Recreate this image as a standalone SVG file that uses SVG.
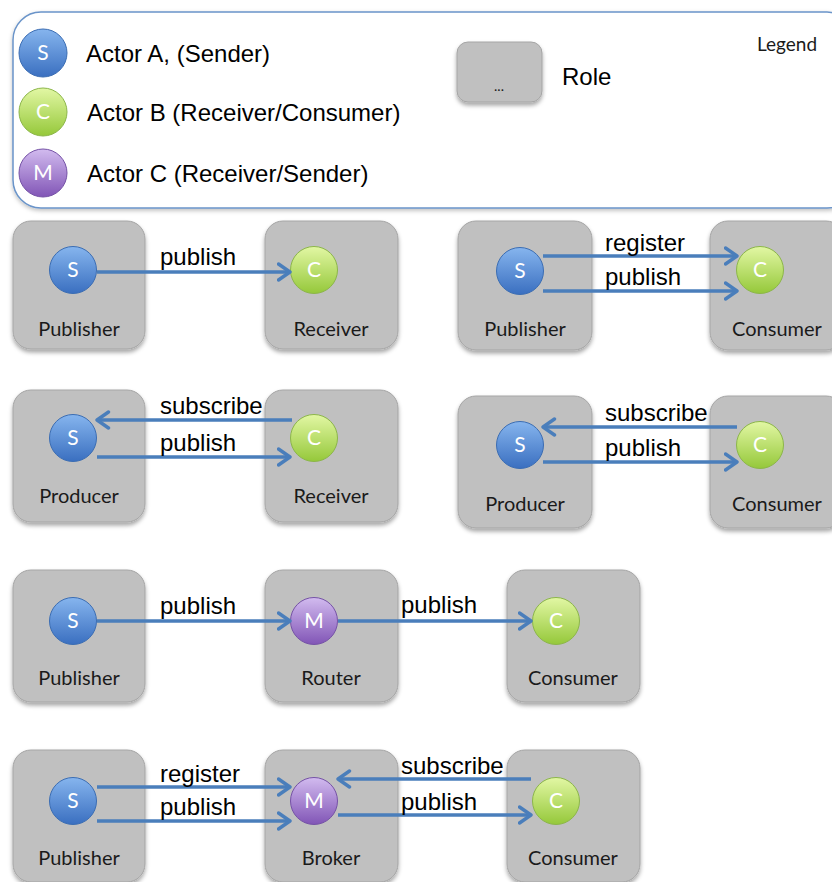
<svg xmlns="http://www.w3.org/2000/svg" width="832" height="882" viewBox="0 0 832 882">
  <style>
    .role { fill: #c0c0c0; stroke: #a5a5a5; stroke-width: 1; filter: url(#shadow); }
    .role-label { font-family: Lato, "Open Sans", sans-serif; font-size: 20px; fill: #1a1a1a; text-anchor: middle; }
    .actor-letter { font-family: Lato, "Open Sans", sans-serif; font-size: 21px; fill: #ffffff; text-anchor: middle; }
    .msg { font-family: "Liberation Sans", Arial, sans-serif; font-size: 24px; fill: #000000; }
    .legend-text { font-family: "Liberation Sans", Arial, sans-serif; font-size: 24px; fill: #000000; }
    .flow { stroke: #4a7ebb; stroke-width: 3.4; fill: none; marker-end: url(#head); }
    .sender { fill: url(#gBlue); stroke: #3b6db3; stroke-width: 1; }
    .consumer { fill: url(#gGreen); stroke: #8cb64a; stroke-width: 1; }
    .mediator { fill: url(#gPurple); stroke: #7552a6; stroke-width: 1; }
  </style>
  <defs>
    <filter id="shadow" x="-20%" y="-20%" width="140%" height="150%">
      <feDropShadow dx="0" dy="3" stdDeviation="2.2" flood-color="#000" flood-opacity="0.35"/>
    </filter>
    <filter id="softShadow" x="-10%" y="-10%" width="120%" height="130%">
      <feDropShadow dx="0" dy="2" stdDeviation="2" flood-color="#000" flood-opacity="0.25"/>
    </filter>
    <linearGradient id="gBlue" x1="0" y1="0" x2="0" y2="1">
      <stop offset="0" stop-color="#86b5ee"/>
      <stop offset="1" stop-color="#3a6fc0"/>
    </linearGradient>
    <linearGradient id="gGreen" x1="0" y1="0" x2="0" y2="1">
      <stop offset="0" stop-color="#e2f7a4"/>
      <stop offset="1" stop-color="#95c83a"/>
    </linearGradient>
    <linearGradient id="gPurple" x1="0" y1="0" x2="0" y2="1">
      <stop offset="0" stop-color="#d2bbef"/>
      <stop offset="1" stop-color="#8155b6"/>
    </linearGradient>
    <!-- open chevron arrowhead -->
    <marker id="head" viewBox="0 0 16 20" refX="13.5" refY="10" markerWidth="16" markerHeight="20" markerUnits="userSpaceOnUse" orient="auto">
      <path d="M2,2 L13.5,10 L2,18" fill="none" stroke="#4a7ebb" stroke-width="3.4" stroke-linecap="round" stroke-linejoin="round"/>
    </marker>
  </defs>

  <rect width="832" height="882" fill="#ffffff"/>

  <!-- Legend panel -->
  <g id="legend">
    <rect x="13" y="12" width="842" height="196" rx="28" ry="28" fill="#ffffff" stroke="#6a94c9" stroke-width="1.5" filter="url(#softShadow)"/>
    <text x="757" y="51" font-family="Lato, 'Open Sans', sans-serif" font-size="19" fill="#1a1a1a">Legend</text>
    <g id="legend-sender">
      <circle class="sender" cx="43" cy="53" r="24"/>
      <text class="actor-letter" x="43" y="60">S</text>
      <text class="legend-text" x="86" y="62" font-size="26.5">Actor A, (Sender)</text>
    </g>
    <g id="legend-consumer">
      <circle class="consumer" cx="43" cy="112" r="24"/>
      <text class="actor-letter" x="43" y="119">C</text>
      <text class="legend-text" x="87" y="121">Actor B (Receiver/Consumer)</text>
    </g>
    <g id="legend-mediator">
      <circle class="mediator" cx="43" cy="173" r="24"/>
      <text class="actor-letter" x="43" y="180">M</text>
      <text class="legend-text" x="87" y="182">Actor C (Receiver/Sender)</text>
    </g>
    <g id="legend-role">
      <rect class="role" x="457" y="42" width="85" height="60" rx="11"/>
      <text x="499" y="91" font-family="Lato, sans-serif" font-size="14" fill="#1a1a1a" text-anchor="middle">...</text>
      <text class="legend-text" x="562" y="85">Role</text>
    </g>
  </g>

  <!-- Row 1, left: Publisher -> Receiver -->
  <g id="r1-publisher">
    <rect class="role" x="13" y="221" width="132" height="128" rx="18"/>
    <circle class="sender" cx="73" cy="270" r="23.5"/>
    <text class="actor-letter" x="73" y="277">S</text>
    <text class="role-label" x="79" y="336">Publisher</text>
  </g>
  <g id="r1-receiver">
    <rect class="role" x="265" y="221" width="133" height="128" rx="18"/>
    <circle class="consumer" cx="314" cy="270" r="23.5"/>
    <text class="actor-letter" x="314" y="277">C</text>
    <text class="role-label" x="331" y="336">Receiver</text>
  </g>

  <!-- Row 1, right: Publisher -> Consumer -->
  <g id="r1b-publisher">
    <rect class="role" x="458" y="221" width="134" height="129" rx="18"/>
    <circle class="sender" cx="520" cy="271" r="23.5"/>
    <text class="actor-letter" x="520" y="278">S</text>
    <text class="role-label" x="525" y="336">Publisher</text>
  </g>
  <g id="r1b-consumer">
    <rect class="role" x="710" y="221" width="134" height="129" rx="18"/>
    <circle class="consumer" cx="760" cy="270" r="23.5"/>
    <text class="actor-letter" x="760" y="277">C</text>
    <text class="role-label" x="777" y="336">Consumer</text>
  </g>

  <!-- Row 2, left: Producer <-> Receiver -->
  <g id="r2-producer">
    <rect class="role" x="13" y="390" width="132" height="132" rx="18"/>
    <circle class="sender" cx="73" cy="438" r="23.5"/>
    <text class="actor-letter" x="73" y="445">S</text>
    <text class="role-label" x="79" y="503">Producer</text>
  </g>
  <g id="r2-receiver">
    <rect class="role" x="265" y="390" width="133" height="132" rx="18"/>
    <circle class="consumer" cx="314" cy="438" r="23.5"/>
    <text class="actor-letter" x="314" y="445">C</text>
    <text class="role-label" x="331" y="503">Receiver</text>
  </g>

  <!-- Row 2, right: Producer <-> Consumer -->
  <g id="r2b-producer">
    <rect class="role" x="458" y="396" width="134" height="132" rx="18"/>
    <circle class="sender" cx="520" cy="445" r="23.5"/>
    <text class="actor-letter" x="520" y="452">S</text>
    <text class="role-label" x="525" y="511">Producer</text>
  </g>
  <g id="r2b-consumer">
    <rect class="role" x="710" y="396" width="134" height="132" rx="18"/>
    <circle class="consumer" cx="760" cy="445" r="23.5"/>
    <text class="actor-letter" x="760" y="452">C</text>
    <text class="role-label" x="777" y="511">Consumer</text>
  </g>

  <!-- Row 3: Publisher -> Router -> Consumer -->
  <g id="r3-publisher">
    <rect class="role" x="13" y="570" width="132" height="132" rx="18"/>
    <circle class="sender" cx="73" cy="621" r="23.5"/>
    <text class="actor-letter" x="73" y="628">S</text>
    <text class="role-label" x="79" y="685">Publisher</text>
  </g>
  <g id="r3-router">
    <rect class="role" x="265" y="570" width="133" height="132" rx="18"/>
    <circle class="mediator" cx="314" cy="621" r="23.5"/>
    <text class="actor-letter" x="314" y="628">M</text>
    <text class="role-label" x="331" y="685">Router</text>
  </g>
  <g id="r3-consumer">
    <rect class="role" x="507" y="570" width="133" height="132" rx="18"/>
    <circle class="consumer" cx="556" cy="621" r="23.5"/>
    <text class="actor-letter" x="556" y="628">C</text>
    <text class="role-label" x="573" y="685">Consumer</text>
  </g>

  <!-- Row 4: Publisher -> Broker <-> Consumer -->
  <g id="r4-publisher">
    <rect class="role" x="13" y="750" width="132" height="132" rx="18"/>
    <circle class="sender" cx="73" cy="801" r="23.5"/>
    <text class="actor-letter" x="73" y="808">S</text>
    <text class="role-label" x="79" y="865">Publisher</text>
  </g>
  <g id="r4-broker">
    <rect class="role" x="265" y="750" width="133" height="132" rx="18"/>
    <circle class="mediator" cx="314" cy="801" r="23.5"/>
    <text class="actor-letter" x="314" y="808">M</text>
    <text class="role-label" x="331" y="865">Broker</text>
  </g>
  <g id="r4-consumer">
    <rect class="role" x="507" y="750" width="133" height="132" rx="18"/>
    <circle class="consumer" cx="556" cy="801" r="23.5"/>
    <text class="actor-letter" x="556" y="808">C</text>
    <text class="role-label" x="573" y="865">Consumer</text>
  </g>

  <!-- Message flows -->
  <g id="connectors">
    <line class="flow" x1="97" y1="272" x2="290" y2="272"/>
    <text class="msg" x="160" y="265">publish</text>

    <line class="flow" x1="543" y1="256" x2="737" y2="256"/>
    <text class="msg" x="605" y="251">register</text>
    <line class="flow" x1="543" y1="291" x2="737" y2="291"/>
    <text class="msg" x="605" y="285">publish</text>

    <line class="flow" x1="292" y1="420" x2="97" y2="420"/>
    <text class="msg" x="160" y="414">subscribe</text>
    <line class="flow" x1="97" y1="457" x2="290" y2="457"/>
    <text class="msg" x="160" y="451">publish</text>

    <line class="flow" x1="737" y1="427" x2="543" y2="427"/>
    <text class="msg" x="605" y="421">subscribe</text>
    <line class="flow" x1="543" y1="462" x2="737" y2="462"/>
    <text class="msg" x="605" y="456">publish</text>

    <line class="flow" x1="97" y1="621" x2="290" y2="621"/>
    <text class="msg" x="160" y="614">publish</text>
    <line class="flow" x1="338" y1="621" x2="531" y2="621"/>
    <text class="msg" x="401" y="613">publish</text>

    <line class="flow" x1="97" y1="787" x2="290" y2="787"/>
    <text class="msg" x="160" y="782">register</text>
    <line class="flow" x1="97" y1="821" x2="290" y2="821"/>
    <text class="msg" x="160" y="815">publish</text>
    <line class="flow" x1="531" y1="779" x2="338" y2="779"/>
    <text class="msg" x="401" y="774">subscribe</text>
    <line class="flow" x1="338" y1="815" x2="531" y2="815"/>
    <text class="msg" x="401" y="810">publish</text>
  </g>
</svg>
